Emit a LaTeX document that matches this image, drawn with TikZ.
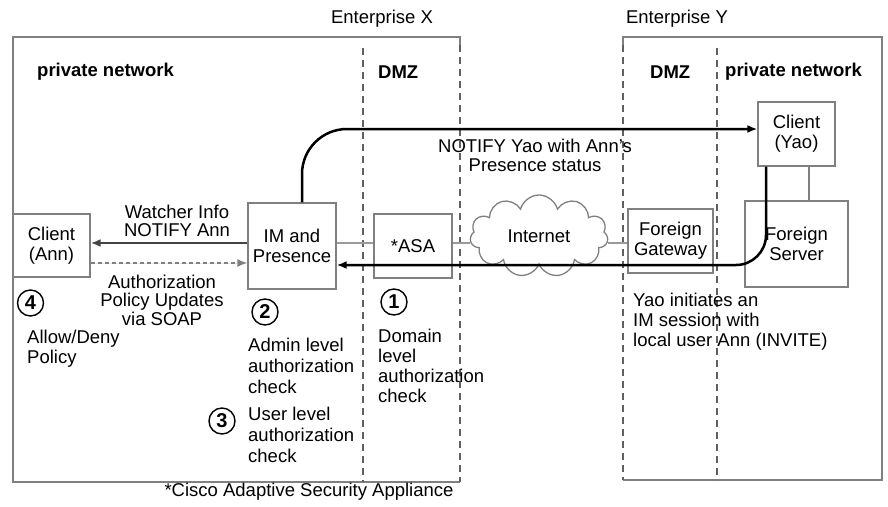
\documentclass[tikz,border=0pt]{standalone}
\usepackage{fontspec}
\setmainfont{Liberation Sans}
\usetikzlibrary{arrows.meta,shapes.symbols}
\definecolor{boxgray}{HTML}{808080}
\definecolor{zonegray}{HTML}{606060}
\definecolor{busgray}{HTML}{9A9A9A}
\definecolor{linkgray}{HTML}{444444}
\begin{document}
\begin{tikzpicture}[x=1pt,y=-1pt,
  every node/.style={font=\fontsize{18.5}{20}\selectfont},
  device/.style={draw=boxgray,line width=1.3pt,align=center,inner sep=0pt},
  zone/.style={draw=boxgray,line width=1.3pt},
  border/.style={zonegray,line width=1.8pt,dash pattern=on 7pt off 5pt},
  note/.style={align=left,inner sep=0pt,anchor=north west},
  numbered/.style={circle,draw,line width=1.4pt,minimum size=26pt,inner sep=0pt,
    font=\fontsize{20}{20}\selectfont\bfseries},
  bus/.style={busgray,line width=2pt},
  msg/.style={-{Latex[length=10pt,width=8pt]}}]
  \useasboundingbox (0,0) rectangle (888,506);
  \draw[zone] (460,45) |- (13,37) |- (460,482);
  \draw[border] (460,45) -- (460,482);
  \draw[border] (363,48) -- (363,482);
  \draw[zone] (623,45) |- (882,37) |- (623,480);
  \draw[border] (623,45) -- (623,480);
  \draw[border] (717,48) -- (717,480);
  \node (entx) at (382,19) {Enterprise X};
  \node (enty) at (677,19) {Enterprise Y};
  \node[anchor=west,inner sep=0pt,font=\fontsize{18.5}{20}\selectfont\bfseries] (privx) at (37,72) {private network};
  \node[anchor=west,inner sep=0pt,font=\fontsize{18.5}{20}\selectfont\bfseries] (dmzx) at (378,72) {DMZ};
  \node[anchor=west,inner sep=0pt,font=\fontsize{18.5}{20}\selectfont\bfseries] (dmzy) at (650,72) {DMZ};
  \node[anchor=west,inner sep=0pt,font=\fontsize{18.5}{20}\selectfont\bfseries] (privy) at (725,72) {private network};
  \node[device,minimum width=77pt,minimum height=63pt] (ann) at (51.5,245.5) {Client\\(Ann)};
  \node[device,minimum width=88pt,minimum height=86pt] (impres) at (292,246) {IM and\\Presence};
  \node[device,minimum width=78pt,minimum height=64pt] (asa) at (413,246) {*ASA};
  \node[cloud,draw=boxgray,line width=1.3pt,cloud puffs=11,cloud ignores aspect,
    minimum width=138pt,minimum height=82pt,inner sep=0pt] (inet) at (539,236) {Internet};
  \node[device,minimum width=85pt,minimum height=64pt] (fgw) at (670.5,241) {Foreign\\Gateway};
  \node[device,minimum width=77pt,minimum height=64pt] (yao) at (796.5,134) {Client\\(Yao)};
  \node[device,minimum width=103pt,minimum height=86pt] (fserver) at (796.5,244) {Foreign\\Server};
  \coordinate (busy) at (0,243);
  \coordinate (soapy) at (0,263);
  \coordinate (invy) at (0,265);
  \draw[bus] (impres.east |- busy) -- (asa.west |- busy)
    (asa.east |- busy) -- (inet.west |- busy)
    (inet.east |- busy) -- (fgw.west |- busy);
  \draw[zone] ([xshift=12.5pt]yao.south) -- ([xshift=12.5pt]yao.south |- fserver.north);
  \draw[msg,linkgray,line width=2pt] (impres.west |- busy) -- (ann.east |- busy);
  \draw[msg,draw=boxgray,fill=linkgray,line width=1.5pt,dash pattern=on 4pt off 3pt] (ann.east |- soapy) -- (impres.west |- soapy);
  \draw[msg,line width=2.5pt,rounded corners=30pt] ([xshift=-30.5pt]yao.south) |- (impres.east |- invy);
  \draw[msg,line width=2.5pt,rounded corners=45pt] ([xshift=10pt]impres.north) |- ([yshift=5pt]yao.west);
  \node[align=center,inner sep=0pt,font=\fontsize{18.5}{19}\selectfont] (notifylbl) at (535,155) {NOTIFY Yao with Ann's\\Presence status};
  \node[align=center,inner sep=0pt,font=\fontsize{18.5}{18}\selectfont] (watchlbl) at (177,221) {Watcher Info\\NOTIFY Ann};
  \node[align=center,inner sep=0pt,font=\fontsize{18.5}{18.5}\selectfont] (soaplbl) at (162,300) {Authorization\\Policy Updates\\via SOAP};
  \node[numbered] (n4) at (30.5,303) {4};
  \node[numbered] (n2) at (265,312) {2};
  \node[numbered] (n3) at (222,421) {3};
  \node[numbered] (n1) at (394,302) {1};
  \node[note] (policylbl) at (27,330) {Allow/Deny\\Policy};
  \node[note,font=\fontsize{18.5}{21}\selectfont] (adminlbl) at (248,338) {Admin level\\authorization\\check};
  \node[note,font=\fontsize{18.5}{21}\selectfont] (userlbl) at (248,407) {User level\\authorization\\check};
  \node[note] (domainlbl) at (378,329) {Domain\\level\\authorization\\check};
  \node[note] (invitelbl) at (633,293) {Yao initiates an\\IM session with\\local user Ann (INVITE)};
  \node (asalbl) at (309,492) {*Cisco Adaptive Security Appliance};
\end{tikzpicture}
\end{document}
